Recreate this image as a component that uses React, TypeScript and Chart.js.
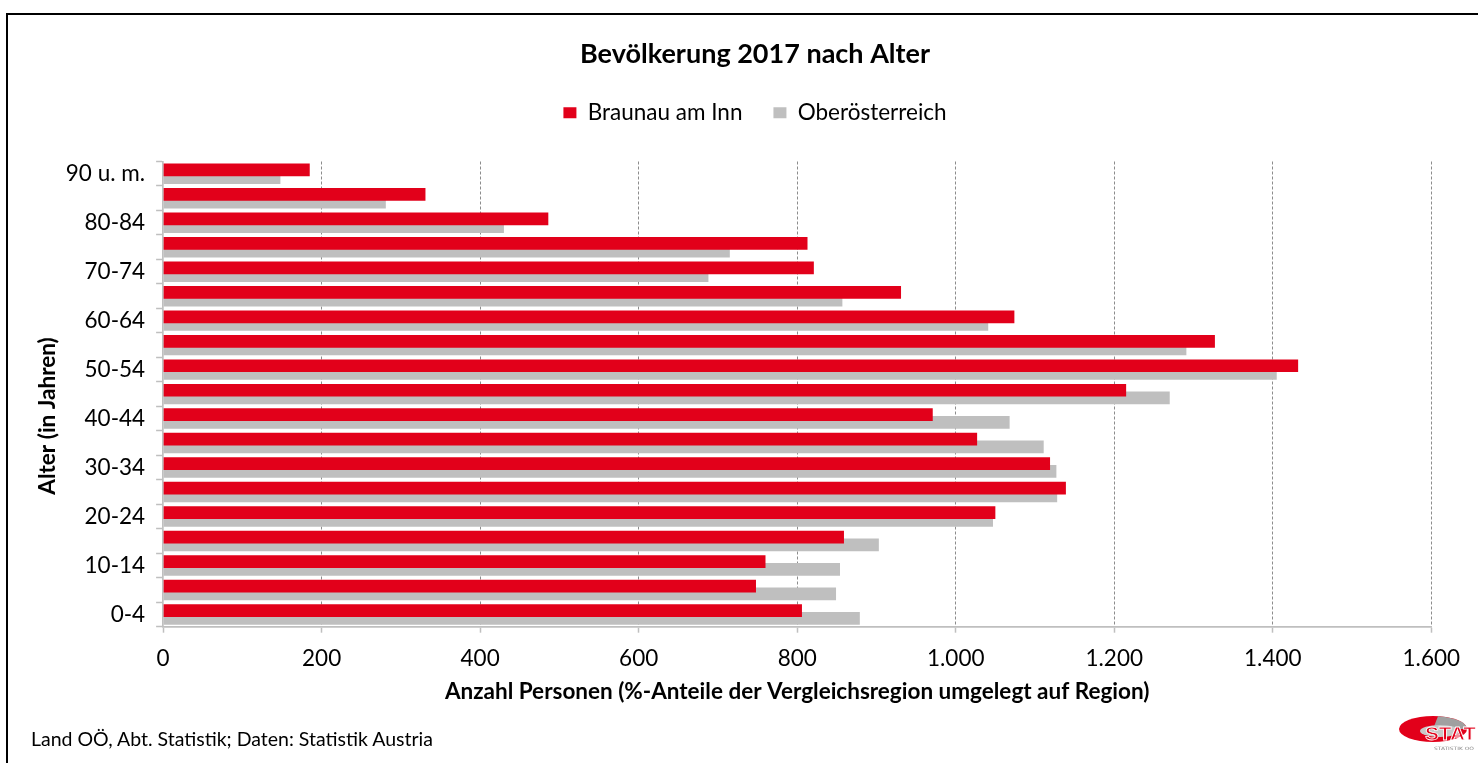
import React, { useEffect, useRef } from 'react';
import { Chart, registerables } from 'chart.js';

Chart.register(...registerables);

// ---- data (bottom to top: 0-4 ... 90 u. m.) ----
const categories = ['0-4', '5-9', '10-14', '15-19', '20-24', '25-29', '30-34', '35-39', '40-44', '45-49', '50-54', '55-59', '60-64', '65-69', '70-74', '75-79', '80-84', '85-89', '90 u. m.'];
const braunauValues = [806, 748, 760, 859, 1050, 1139, 1119, 1027, 971, 1215, 1432, 1327, 1074, 931, 821, 813, 486, 331, 185];
const ooeValues = [879, 849, 854, 903, 1047, 1128, 1127, 1111, 1068, 1270, 1405, 1291, 1041, 857, 688, 715, 430, 281, 148];
const seriesNames = ['Braunau am Inn', 'Oberösterreich'];
const xMin = 0;
const xMax = 1600;
const xStep = 200;
const chartTitle = 'Bevölkerung 2017 nach Alter';
const xAxisTitle = 'Anzahl Personen (%-Anteile der Vergleichsregion umgelegt auf Region)';
const yAxisTitle = 'Alter (in Jahren)';
const sourceNote = 'Land OÖ, Abt. Statistik; Daten: Statistik Austria';

const RED = '#e2001a';
const GRAY = '#bfbfbf';
const AXIS = '#bfbfbf';
const GRID = '#8c8c8c';
const FONT = 'Lato';

function formatDe(v: number): string {
  return String(v).replace(/\B(?=(\d{3})+(?!\d))/g, '.');
}

export default function App() {
  const ref = useRef<HTMLCanvasElement>(null);

  useEffect(() => {
    const canvas = ref.current;
    if (!canvas) return;
    Chart.defaults.font.family = FONT;
    Chart.defaults.color = '#000';
    const chart = new Chart(canvas, {
      type: 'bar',
      data: {
        labels: categories,
        datasets: [
          {
            label: seriesNames[0],
            data: braunauValues,
            xAxisID: 'x',
            yAxisID: 'y',
            backgroundColor: RED,
            borderWidth: 0,
            categoryPercentage: 0.63,
            barPercentage: 1.65,
          },
          {
            label: seriesNames[1],
            data: ooeValues,
            xAxisID: 'x',
            yAxisID: 'y',
            backgroundColor: GRAY,
            borderWidth: 0,
            categoryPercentage: 0.63,
            barPercentage: 1.65,
          },
        ],
      },
      options: {
        indexAxis: 'y',
        responsive: false,
        animation: false,
        devicePixelRatio: 1,
        layout: { padding: { top: 0, right: 0, bottom: 0, left: 0 } },
        plugins: {
          title: {
            display: true,
            text: chartTitle,
            color: '#000',
            font: { family: FONT, size: 27, weight: 'bold' },
            padding: { top: 38, bottom: 0 },
          },
          legend: {
            display: true,
            position: 'top',
            labels: {
              boxWidth: 13,
              boxHeight: 11,
              padding: 31,
              color: '#000',
              font: { family: FONT, size: 22.5 },
            },
          },
          tooltip: { enabled: false },
        },
        scales: {
          x: {
            type: 'linear',
            position: 'bottom',
            min: xMin,
            max: xMax,
            ticks: {
              stepSize: xStep,
              color: '#000',
              font: { family: FONT, size: 22.5 },
              padding: 12.5,
              callback: (v: any) => formatDe(Number(v)),
            },
            grid: {
              color: (ctx: any) => (ctx.tick && ctx.tick.value === 0 ? 'rgba(0,0,0,0)' : GRID),
              lineWidth: 1,
              tickLength: 6,
              tickColor: AXIS,
              tickWidth: 1.5,
              tickBorderDash: [],
            },
            border: { display: true, color: AXIS, width: 1.7, dash: [3, 2] },
            title: {
              display: true,
              text: xAxisTitle,
              color: '#000',
              font: { family: FONT, size: 22.5, weight: 'bold' },
              padding: { top: 0, bottom: 57.5 },
            },
            afterFit: (s: any) => {
              s.height = 136.3;
            },
          },
          y: {
            type: 'category',
            reverse: true,
            offset: true,
            ticks: {
              autoSkip: false,
              color: '#000',
              font: { family: FONT, size: 22.5 },
              padding: 11,
              callback: (_v: any, i: number) => (i % 2 === 0 ? categories[i] : ''),
            },
            grid: {
              offset: true,
              drawOnChartArea: false,
              drawTicks: true,
              tickLength: 7,
              tickColor: AXIS,
              tickWidth: 1.5,
              color: AXIS,
            },
            border: { display: true, color: AXIS, width: 1.7 },
            title: {
              display: true,
              text: yAxisTitle + '        ',
              color: '#000',
              font: { family: FONT, size: 22.5, weight: 'bold' },
              padding: { top: 26.5, bottom: 0 },
            },
            afterFit: (s: any) => {
              s.width = 155.1;
            },
          },
          spacerTop: {
            type: 'linear',
            position: 'top',
            display: true,
            ticks: { display: false },
            grid: { display: false, drawTicks: false },
            border: { display: false },
            afterFit: (s: any) => {
              s.height = 27.6;
            },
          },
          spacerRight: {
            type: 'linear',
            position: 'right',
            display: true,
            ticks: { display: false },
            grid: { display: false, drawTicks: false },
            border: { display: false },
            afterFit: (s: any) => {
              s.width = 70.7;
            },
          },
        },
      } as any,
    });
    return () => chart.destroy();
  }, []);

  return (
    <div
      style={{
        position: 'fixed',
        left: 0,
        top: 0,
        width: 1478,
        height: 763,
        overflow: 'hidden',
        background: '#fff',
        fontFamily: FONT,
      }}
    >
      <div
        style={{
          position: 'absolute',
          left: 6,
          top: 12.5,
          width: 3000,
          height: 3000,
          borderTop: '2px solid #000',
          borderLeft: '2px solid #000',
        }}
      />
      <canvas
        ref={ref}
        width={1494}
        height={763}
        style={{ position: 'absolute', left: 8, top: 0, width: 1494, height: 763 }}
      />
      <div
        style={{
          position: 'absolute',
          left: 31,
          top: 727,
          fontSize: 19.5,
          lineHeight: '24px',
          color: '#000',
          whiteSpace: 'nowrap',
          fontFamily: FONT,
        }}
      >
        {sourceNote}
      </div>
      <svg
        width={82}
        height={44}
        viewBox="0 0 82 44"
        style={{ position: 'absolute', left: 1396, top: 712 }}
      >
        <ellipse cx={37} cy={17} rx={34} ry={13} fill={RED} />
        <path d="M37 17 L42 4.2 A34 13 0 0 1 71 17 Z" fill="#a0a0a0" />
        <ellipse cx={44} cy={19} rx={20} ry={6} fill="#c8c8c8" />
        <text
          x={29}
          y={28}
          textLength={51}
          lengthAdjust="spacingAndGlyphs"
          fontFamily="Liberation Sans"
          fontWeight="bold"
          fontSize={19}
          fill={RED}
          stroke="#fff"
          strokeWidth={0.8}
        >
          STAT
        </text>
        <text x={38} y={38} textLength={40} lengthAdjust="spacingAndGlyphs" fontFamily="DejaVu Sans" fontSize={4.5} fill="#888">
          STATISTIK OÖ
        </text>
      </svg>
    </div>
  );
}
